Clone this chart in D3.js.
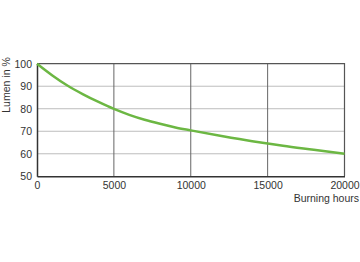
<!DOCTYPE html>
<html>
<head>
<meta charset="utf-8">
<script src="https://cdn.jsdelivr.net/npm/d3@7"></script>
<style>
    body { margin: 0; background: #fff; }
    text { font-family: "Liberation Sans", Arial, sans-serif; fill: #333; }
</style>
</head>
<body>
<div id="chart"></div>
<script>
var hours = [0, 1000, 2000, 3000, 4000, 5000, 6000, 7000, 8000, 9000, 10000, 12000, 14000, 15000, 16000, 18000, 20000];
var lumen = [100, 94.8, 90.2, 86.4, 83, 79.9, 77.3, 75.1, 73.3, 71.7, 70.4, 67.9, 65.6, 64.6, 63.6, 61.8, 60];
var xTicks = [0, 5000, 10000, 15000, 20000];
var yTicks = [50, 60, 70, 80, 90, 100];

var w = 360,
    h = 262,
    padLeft = 37,
    padRight = 344.5,
    padTop = 63.7,
    padBottom = 176.3;

var svg = d3.select("#chart")
    .append("svg")
    .attr("width", w)
    .attr("height", h);

var x = d3.scaleLinear().domain([0, 20000]).range([padLeft, padRight]);
var y = d3.scaleLinear().domain([50, 100]).range([padBottom, padTop]);

// horizontal grid, light
svg.append("g")
    .selectAll("line")
    .data(yTicks.slice(1, -1))
    .enter()
    .append("line")
    .attr("x1", padLeft).attr("x2", padRight)
    .attr("y1", function (d) { return y(d); })
    .attr("y2", function (d) { return y(d); })
    .attr("stroke", "#bdbdbd")
    .attr("stroke-width", 1);

// vertical grid, darker
svg.append("g")
    .selectAll("line")
    .data(xTicks.slice(1, -1))
    .enter()
    .append("line")
    .attr("x1", function (d) { return x(d); })
    .attr("x2", function (d) { return x(d); })
    .attr("y1", padTop).attr("y2", padBottom)
    .attr("stroke", "#666")
    .attr("stroke-width", 1);

// top and right border
svg.append("path")
    .attr("d", "M" + padLeft + "," + padTop + "H" + padRight + "V" + padBottom)
    .attr("fill", "none")
    .attr("stroke", "#555")
    .attr("stroke-width", 1.2);

var xAxis = d3.axisBottom(x).tickValues(xTicks).tickSize(0).tickPadding(5).tickFormat(d3.format("d"));
var yAxis = d3.axisLeft(y).tickValues(yTicks).tickSize(0).tickPadding(5);

var gx = svg.append("g")
    .attr("transform", "translate(0," + padBottom + ")")
    .call(xAxis);
var gy = svg.append("g")
    .attr("transform", "translate(" + padLeft + ",0)")
    .call(yAxis);

[gx, gy].forEach(function (g) {
    g.select(".domain").attr("stroke", "#333").attr("stroke-width", 1.5);
    g.selectAll("text").attr("font-size", 10.5).attr("fill", "#333");
});

var line = d3.line()
    .x(function (d, i) { return x(hours[i]); })
    .y(function (d) { return y(d); })
    .curve(d3.curveMonotoneX);

svg.append("path")
    .datum(lumen)
    .attr("d", line)
    .attr("fill", "none")
    .attr("stroke", "#6cb743")
    .attr("stroke-width", 2.5);

svg.append("text")
    .attr("transform", "translate(10," + 85 + ") rotate(-90)")
    .attr("text-anchor", "middle")
    .attr("font-size", 10.5)
    .text("Lumen in %");

svg.append("text")
    .attr("x", 359)
    .attr("y", 202)
    .attr("text-anchor", "end")
    .attr("font-size", 10.5)
    .text("Burning hours");
</script>
</body>
</html>
